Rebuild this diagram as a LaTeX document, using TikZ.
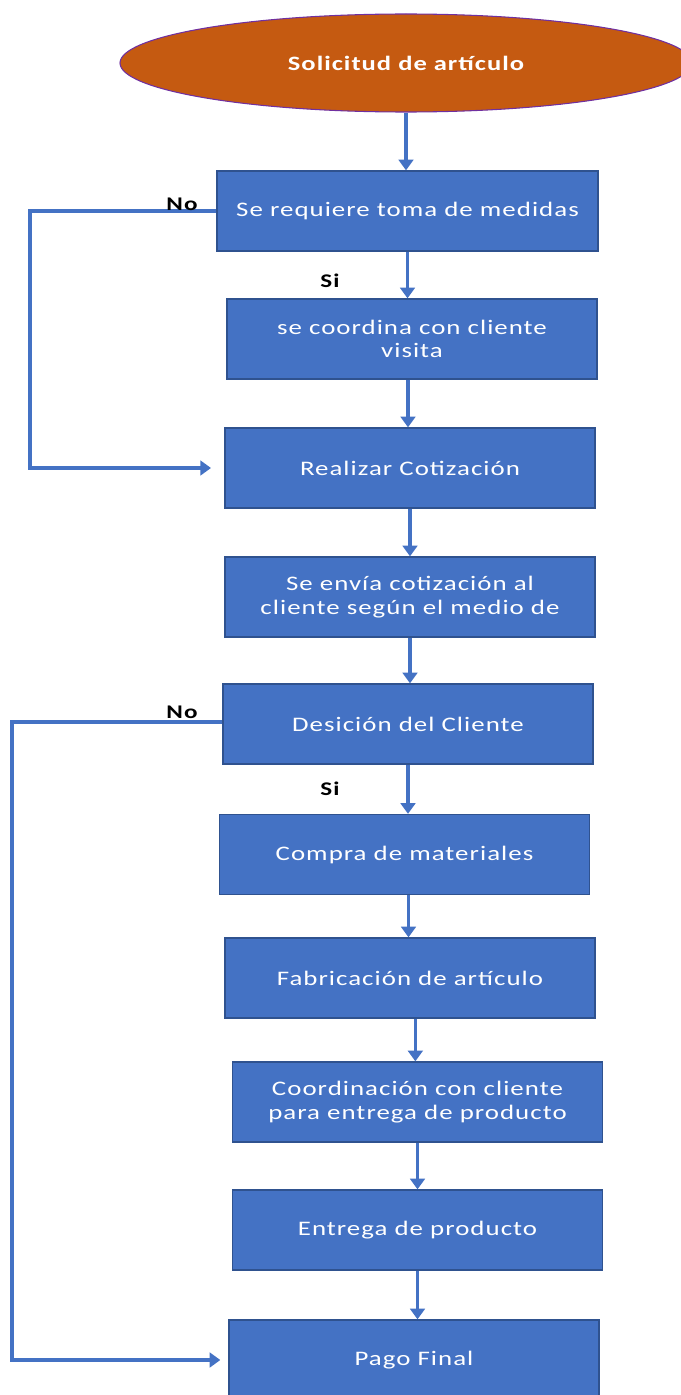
\documentclass[tikz,border=0pt]{standalone}
\usepackage{fontspec}
\setmainfont{Carlito}[FakeStretch=1.3, LetterSpace=5]
\usetikzlibrary{shapes.geometric,arrows.meta}
\definecolor{boxblue}{HTML}{4472C4}
\definecolor{boxedge}{HTML}{2F528F}
\definecolor{startfill}{HTML}{C55A11}
\definecolor{startedge}{HTML}{7030A0}
\begin{document}
\begin{tikzpicture}[x=0.75pt, y=-0.75pt,
		stepbox/.style={rectangle, draw=boxedge, line width=1pt, fill=boxblue, text=white,
			minimum width=277.5pt, minimum height=60pt, inner sep=0pt, align=center,
			font=\fontsize{15.5}{17.5}\selectfont},
		startnode/.style={ellipse, draw=startedge, line width=0.8pt, fill=startfill, text=white,
			minimum width=429pt, minimum height=73.5pt, inner sep=0pt,
			font=\fontsize{15.3}{17.5}\selectfont\bfseries},
		flow/.style={draw=boxblue, line width=2.6pt, -{Triangle[length=8pt, width=11pt]}},
		lbl/.style={font=\fontsize{14.5}{16}\selectfont\bfseries, inner sep=0pt}]
		\useasboundingbox (0, 0) rectangle (681, 1395);
		% start of the process
		\node [startnode] (start) at (406, 63) {Solicitud de artículo};
		% process steps
		\node [stepbox, minimum width=285.75pt] (medidas) at (407.5, 211) {Se requiere toma de medidas};
		\node [stepbox] (visita) at (412, 339) {se coordina con cliente\\visita};
		\node [stepbox] (cotizar) at (410, 468) {Realizar Cotización};
		\node [stepbox] (enviar) at (410, 597) {Se envía cotización al\\cliente según el medio de};
		\node [stepbox] (decision) at (408, 724) {Desición del Cliente};
		\node [stepbox] (compra) at (404.5, 854.5) {Compra de materiales};
		\node [stepbox] (fabrica) at (410, 978) {Fabricación de artículo};
		\node [stepbox] (coordina) at (417.5, 1102) {Coordinación con cliente\\para entrega de producto};
		\node [stepbox] (entrega) at (417.5, 1230) {Entrega de producto};
		\node [stepbox] (pago) at (414, 1360) {Pago Final};
		% main flow, straight down from each step
		\draw [flow] (start.south) -- (start.south |- medidas.north);
		\draw [flow] (medidas.south) -- (medidas.south |- visita.north);
		\draw [flow] ([xshift=-3pt]visita.south) -- ([xshift=-3pt]visita.south |- cotizar.north);
		\draw [flow] (cotizar.south) -- (cotizar.south |- enviar.north);
		\draw [flow] (enviar.south) -- (enviar.south |- decision.north);
		\draw [flow] (decision.south) -- (decision.south |- compra.north);
		\draw [flow] ([xshift=3pt]compra.south) -- ([xshift=3pt]compra.south |- fabrica.north);
		\draw [flow] ([xshift=4pt]fabrica.south) -- ([xshift=4pt]fabrica.south |- coordina.north);
		\draw [flow] (coordina.south) -- (coordina.south |- entrega.north);
		\draw [flow] (entrega.south) -- (entrega.south |- pago.north);
		% the two "No" branches
		\coordinate (loopa) at (30, 211);
		\coordinate (loopb) at (12, 722);
		\draw [flow] (medidas.west) -- (loopa) -- (loopa |- cotizar.west) -- ([xshift=-10pt]cotizar.west);
		\draw [flow] ([yshift=1.5pt]decision.west) -- (loopb) -- (loopb |- pago.west) -- ([xshift=-6pt]pago.west);
		% answers
		\node [lbl] (noa) at (182, 204) {No};
		\node [lbl] (sia) at (330, 281) {Si};
		\node [lbl] (nob) at (182, 712) {No};
		\node [lbl] (sib) at (330, 789) {Si};
	\end{tikzpicture}
\end{document}
